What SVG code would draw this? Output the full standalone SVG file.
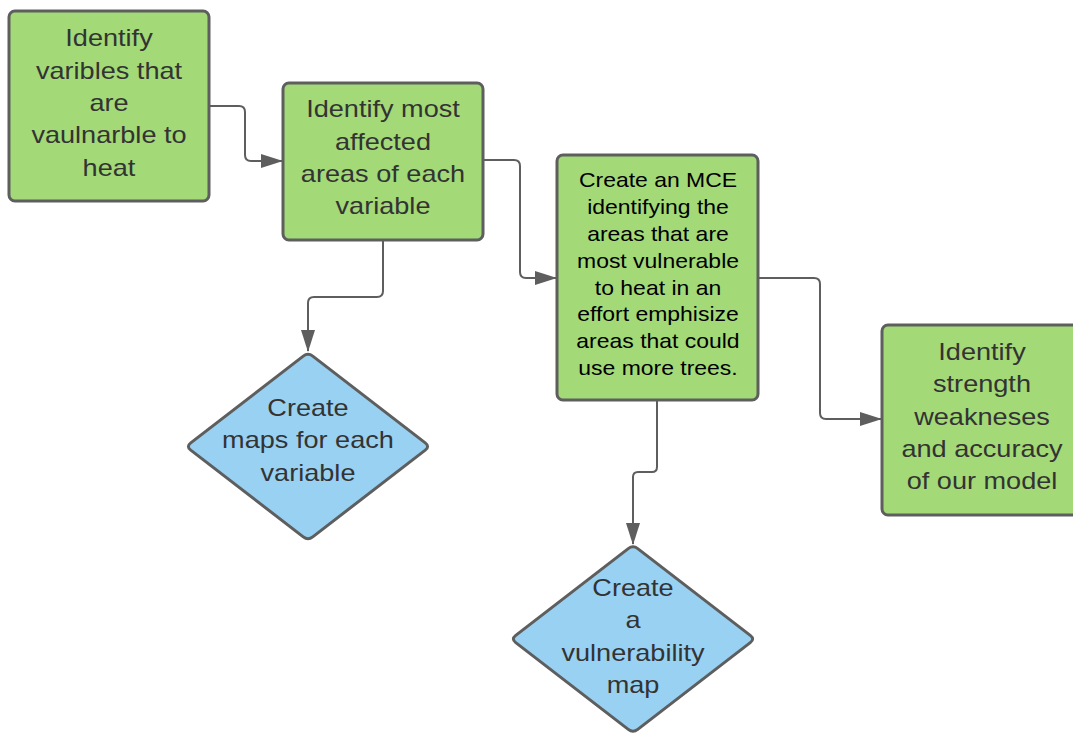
<svg xmlns="http://www.w3.org/2000/svg" width="1073" height="733" viewBox="0 0 1073 733">
<style>
.box{fill:#a3d977;stroke:#5e5e5e;stroke-width:3}
.dia{fill:#99d1f2;stroke:#5e5e5e;stroke-width:3;stroke-linejoin:round}
.t{font-family:"Liberation Sans",Arial,sans-serif;font-size:24px;fill:#333333;text-anchor:middle}
.tb{font-family:"Liberation Sans",Arial,sans-serif;font-size:20.5px;fill:#000000;text-anchor:middle}
.c{fill:none;stroke:#5e5e5e;stroke-width:2;marker-end:url(#arr)}
</style>
<defs>
<marker id="arr" markerUnits="userSpaceOnUse" markerWidth="22" markerHeight="14" refX="21" refY="7" orient="auto">
<path d="M0,0 L22,7 L0,14 Z" fill="#5e5e5e"/>
</marker>
</defs>
<rect width="1073" height="733" fill="#ffffff"/>
<g id="connectors">
<path class="c" d="M209 106 H239 Q245 106 245 112 V155 Q245 161 251 161 H282"/>
<path class="c" d="M483 160 H514 Q520 160 520 166 V272 Q520 278 526 278 H556"/>
<path class="c" d="M383 240 V291 Q383 297 377 297 H314 Q308 297 308 303 V351"/>
<path class="c" d="M758 278 H814 Q820 278 820 284 V413 Q820 419 826 419 H881"/>
<path class="c" d="M657 400 V467 Q657 472 652 472 H638 Q633 472 633 477 V544"/>
</g>
<g id="n1">
<rect class="box" x="9" y="11" width="200" height="190" rx="6"/>
<text class="t" transform="translate(109 0) scale(1.13 1)"><tspan x="0" y="46.5">Identify</tspan><tspan x="0" y="78.8">varibles that</tspan><tspan x="0" y="111.1">are</tspan><tspan x="0" y="143.4">vaulnarble to</tspan><tspan x="0" y="175.7">heat</tspan></text>
</g>
<g id="n2">
<rect class="box" x="283" y="83" width="200" height="157" rx="6"/>
<text class="t" transform="translate(383 0) scale(1.13 1)"><tspan x="0" y="117.5">Identify most</tspan><tspan x="0" y="149.8">affected</tspan><tspan x="0" y="182.1">areas of each</tspan><tspan x="0" y="214.4">variable</tspan></text>
</g>
<g id="n3">
<rect class="box" x="557" y="155" width="201" height="245" rx="6"/>
<text class="tb" transform="translate(658 0) scale(1.12 1)"><tspan x="0" y="187.5">Create an MCE</tspan><tspan x="0" y="214.3">identifying the</tspan><tspan x="0" y="241.1">areas that are</tspan><tspan x="0" y="267.9">most vulnerable</tspan><tspan x="0" y="294.7">to heat in an</tspan><tspan x="0" y="321.5">effort emphisize</tspan><tspan x="0" y="348.3">areas that could</tspan><tspan x="0" y="375.1">use more trees.</tspan></text>
</g>
<g id="n4">
<rect class="box" x="882" y="325" width="200" height="190" rx="6"/>
<text class="t" transform="translate(982 0) scale(1.13 1)"><tspan x="0" y="360">Identify</tspan><tspan x="0" y="392.3">strength</tspan><tspan x="0" y="424.6">weakneses</tspan><tspan x="0" y="456.9">and accuracy</tspan><tspan x="0" y="489.2">of our model</tspan></text>
</g>
<g id="d1">
<path class="dia" d="M312.75 356.16 L425.25 442.84 Q430 446.5 425.25 450.16 L312.75 536.84 Q308 540.5 303.25 536.84 L190.75 450.16 Q186 446.5 190.75 442.84 L303.25 356.16 Q308 352.5 312.75 356.16 Z"/>
<text class="t" transform="translate(308 0) scale(1.13 1)"><tspan x="0" y="416">Create</tspan><tspan x="0" y="448.3">maps for each</tspan><tspan x="0" y="480.6">variable</tspan></text>
</g>
<g id="d2">
<path class="dia" d="M637.75 548.66 L750.25 635.34 Q755 639 750.25 642.66 L637.75 729.34 Q633 733 628.25 729.34 L515.75 642.66 Q511 639 515.75 635.34 L628.25 548.66 Q633 545 637.75 548.66 Z"/>
<text class="t" transform="translate(633 0) scale(1.13 1)"><tspan x="0" y="596">Create</tspan><tspan x="0" y="628.3">a</tspan><tspan x="0" y="660.6">vulnerability</tspan><tspan x="0" y="692.9">map</tspan></text>
</g>
</svg>
